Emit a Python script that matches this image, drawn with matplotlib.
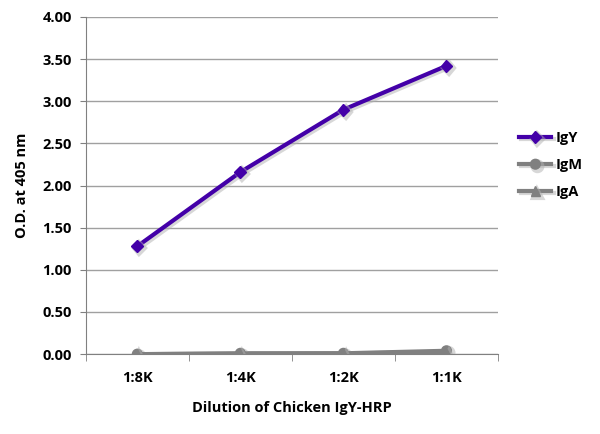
import matplotlib
matplotlib.use('Agg')
import matplotlib.pyplot as plt
import matplotlib.patheffects as pe

plt.rcParams['font.family'] = ['Open Sans', 'DejaVu Sans']
plt.rcParams['font.weight'] = 'bold'

dilutions = ['1:8K', '1:4K', '1:2K', '1:1K']
igy = [1.28, 2.16, 2.90, 3.42]
igm = [0.00, 0.01, 0.01, 0.04]
iga = [0.00, 0.005, 0.01, 0.02]

purple = '#4300a8'
grey = '#808080'

fig = plt.figure(figsize=(6, 4.34), dpi=100)
ax = fig.add_axes([0.143, 0.184, 0.687, 0.777])

shadow = [pe.SimpleLineShadow(offset=(1.5, -1.5), shadow_color='#b0b0b0', alpha=0.5, linewidth=3), pe.Normal()]

x = list(range(len(dilutions)))
ax.plot(x, igy, color=purple, lw=3, marker='D', ms=6, label='IgY', path_effects=shadow, zorder=4)
ax.plot(x, igm, color=grey, lw=3, marker='o', ms=7, label='IgM', path_effects=shadow, zorder=3)
ax.plot(x, iga, color=grey, lw=3, marker='^', ms=7, label='IgA', path_effects=shadow, zorder=3)

ax.set_xlim(-0.5, 3.5)
ax.set_ylim(0, 4)
ax.set_yticks([0, 0.5, 1, 1.5, 2, 2.5, 3, 3.5, 4])
ax.set_yticklabels([f'{v:.2f}' for v in ax.get_yticks()])
ax.set_xticks(x)
ax.set_xticklabels(dilutions)
ax.set_xticks([-0.5, 0.5, 1.5, 2.5, 3.5], minor=True)
ax.tick_params(axis='x', which='major', length=0, pad=12, labelsize=10.5)
ax.tick_params(axis='x', which='minor', length=5, color=grey, direction='out')
ax.tick_params(axis='y', length=4, color=grey, labelsize=10.5, pad=6)

ax.grid(axis='y', color='#a0a0a0', lw=1)
ax.set_axisbelow(True)
for s in ['top', 'right']:
    ax.spines[s].set_visible(False)
ax.spines['left'].set_color(grey)
ax.spines['bottom'].set_color(grey)

ax.set_xlabel('Dilution of Chicken IgY-HRP', fontsize=10.5, fontweight='bold', labelpad=12)
ax.set_ylabel('O.D. at 405 nm', fontsize=10.5, fontweight='bold', labelpad=10)

ax.legend(loc='center left', bbox_to_anchor=(1.02, 0.56), frameon=False, fontsize=10.5,
          handlelength=2.2, handletextpad=0.3, labelspacing=0.9)

fig.savefig('out.png', dpi=100)
